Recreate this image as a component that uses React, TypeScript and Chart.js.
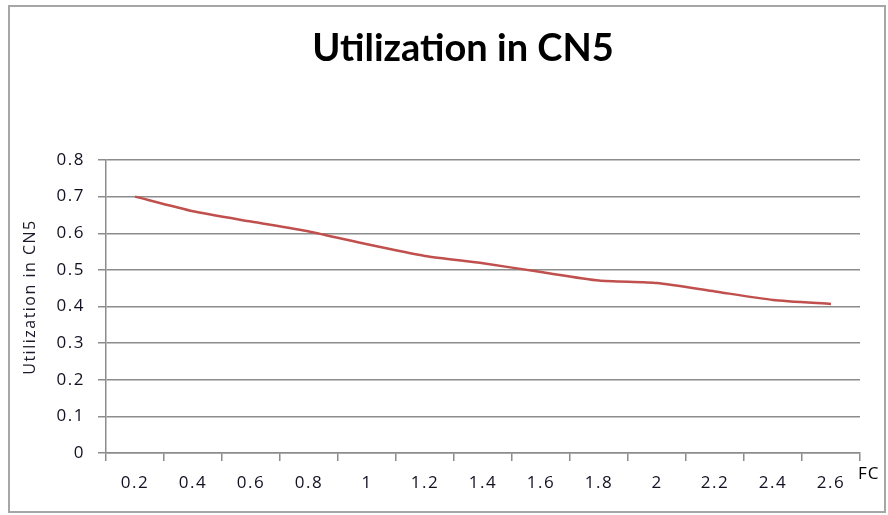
import React, { useEffect, useRef } from "react";
import { Chart, registerables } from "chart.js";

Chart.register(...registerables);

const fcLabels = ["0.2", "0.4", "0.6", "0.8", "1", "1.2", "1.4", "1.6", "1.8", "2", "2.2", "2.4", "2.6"];
const utilization = [0.70, 0.66, 0.632, 0.605, 0.57, 0.538, 0.518, 0.494, 0.471, 0.464, 0.441, 0.418, 0.407];
const chartTitle = "Utilization in CN5";
const yTitle = "Utilization in CN5";
const xTitle = "FC";

const TITLE_FONT = 'Lato, "Open Sans", sans-serif';
const FONT = '"Open Sans", Lato, sans-serif';

const decor = {
  id: "decor",
  beforeDraw(chart: any) {
    const ctx = chart.ctx;
    ctx.save();
    ctx.fillStyle = "#ffffff";
    ctx.fillRect(0, 0, chart.width, chart.height);
    ctx.strokeStyle = "#a6a6a6";
    ctx.lineWidth = 2;
    ctx.strokeRect(9, 6, 876, 506);
    ctx.restore();
    (ctx as any).letterSpacing = "1.5px";
  },
  afterDraw(chart: any) {
    const ctx = chart.ctx;
    const a = chart.chartArea;
    ctx.save();
    (ctx as any).letterSpacing = "0px";
    ctx.fillStyle = "#000000";
    ctx.textAlign = "center";
    ctx.textBaseline = "middle";
    ctx.font = `bold 38px ${TITLE_FONT}`;
    ctx.fillText(chartTitle, 463, 49);
    ctx.restore();
    ctx.save();
    (ctx as any).letterSpacing = "1.5px";
    ctx.translate(30, 297);
    ctx.rotate(-Math.PI / 2);
    ctx.font = `16px ${FONT}`;
    ctx.fillStyle = "#1a1a2a";
    ctx.textAlign = "center";
    ctx.textBaseline = "middle";
    ctx.fillText(yTitle, 0, 0);
    ctx.restore();
    ctx.save();
    (ctx as any).letterSpacing = "1px";
    ctx.font = `17px ${FONT}`;
    ctx.fillStyle = "#000000";
    ctx.textAlign = "left";
    ctx.textBaseline = "middle";
    ctx.fillText(xTitle, a.right - 2, a.bottom + 21);
    ctx.restore();
    (ctx as any).letterSpacing = "0px";
  },
};

export default function App() {
  const ref = useRef<HTMLCanvasElement>(null);
  useEffect(() => {
    const chart = new Chart(ref.current!, {
      type: "line",
      data: {
        labels: fcLabels,
        datasets: [
          {
            data: utilization,
            borderColor: "#c0504d",
            borderWidth: 2.5,
            pointRadius: 0,
            tension: 0.2,
            fill: false,
          },
        ],
      },
      options: {
        animation: false,
        responsive: false,
        devicePixelRatio: 1,
        layout: { padding: { left: 0, right: 28, top: 160, bottom: 12 } },
        plugins: { legend: { display: false }, title: { display: false }, tooltip: { enabled: false } },
        scales: {
          x: {
            type: "category",
            offset: true,
            grid: {
              offset: true,
              drawOnChartArea: false,
              drawTicks: true,
              tickLength: 8,
              color: "#8c8c8c",
              lineWidth: 1.5,
            },
            border: { color: "#8c8c8c", width: 1.5 },
            ticks: {
              color: "#111122",
              font: { family: FONT, size: 17 },
              padding: 12,
              maxRotation: 0,
              autoSkip: false,
            },
            afterFit(scale: any) {
              scale.height = 50;
            },
          },
          y: {
            min: 0,
            max: 0.8,
            grid: { color: "#8c8c8c", lineWidth: 1.5, tickLength: 8 },
            border: { color: "#8c8c8c", width: 1.5 },
            ticks: {
              stepSize: 0.1,
              color: "#111122",
              font: { family: FONT, size: 17 },
              padding: 13,
              callback: (v: any) => String(Math.round(Number(v) * 10) / 10),
            },
            afterFit(scale: any) {
              scale.width = 106;
            },
          },
        },
      },
      plugins: [decor],
    });
    return () => chart.destroy();
  }, []);
  return (
    <div style={{ position: "absolute", left: 0, top: 0, width: 888, height: 515 }}>
      <canvas ref={ref} width={888} height={515} style={{ width: 888, height: 515 }} />
    </div>
  );
}
